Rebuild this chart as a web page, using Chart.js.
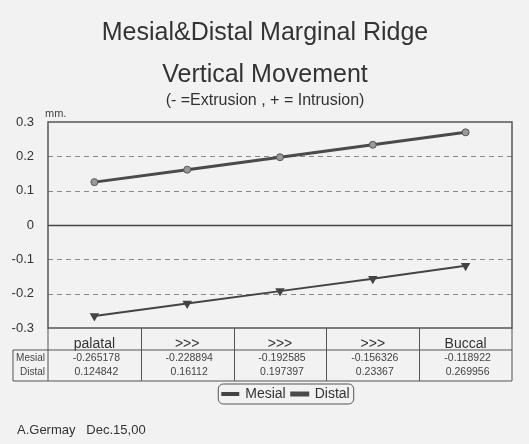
<!DOCTYPE html>
<html>
<head>
<meta charset="utf-8">
<script src="https://cdn.jsdelivr.net/npm/chart.js@4/dist/chart.umd.min.js"></script>
<style>
html, body { margin: 0; background: #f2f2f2; }
#wrap { width: 529px; height: 444px; }
</style>
</head>
<body>
<div id="wrap"><canvas id="myChart"></canvas></div>
<script>
// positions along the tooth, palatal -> buccal
const positions = ['palatal', '>>>', '>>>', '>>>', 'Buccal'];
const mesial = [-0.265178, -0.228894, -0.192585, -0.156326, -0.118922];
const distal = [0.124842, 0.16112, 0.197397, 0.23367, 0.269956];
const yMin = -0.3;
const yMax = 0.3;
const yStep = 0.1;

const FONT = 'Liberation Sans, Arial, sans-serif';
Chart.defaults.font.family = FONT;
Chart.defaults.color = '#333';

const LEGEND_SHIFT = 30;
const TITLE_SHIFT = 9;

// dashed grid, plot frame and the data table under the x axis
const tablePlugin = {
    id: 'tablePlugin',
    afterUpdate(chart) {
        // titles and legend sit a bit right of centre in the original
        const TitleClass = chart.titleBlock.constructor;
        chart.boxes.forEach(b => {
            if (b instanceof TitleClass) {
                b.left += TITLE_SHIFT;
                b.right += TITLE_SHIFT;
            }
        });
        const lg = chart.legend;
        lg.left += LEGEND_SHIFT;
        lg.right += LEGEND_SHIFT;
        (lg.legendHitBoxes || []).forEach(h => { h.left += LEGEND_SHIFT; });
    },
    beforeDatasetsDraw(chart) {
        const ctx = chart.ctx;
        const a = chart.chartArea;
        const y = chart.scales.y;
        ctx.save();
        y.ticks.forEach(t => {
            const v = Math.round(t.value * 10) / 10;
            if (v === yMin || v === yMax) return;
            const py = Math.round(y.getPixelForValue(t.value)) + 0.5;
            ctx.beginPath();
            if (v === 0) {
                ctx.setLineDash([]);
                ctx.strokeStyle = '#444';
                ctx.lineWidth = 1.5;
            } else {
                ctx.setLineDash([5, 4]);
                ctx.strokeStyle = '#888';
                ctx.lineWidth = 1;
            }
            ctx.moveTo(a.left, py);
            ctx.lineTo(a.right, py);
            ctx.stroke();
        });
        ctx.setLineDash([]);
        ctx.strokeStyle = '#555';
        ctx.lineWidth = 1.5;
        ctx.strokeRect(a.left, a.top, a.right - a.left, a.bottom - a.top);
        ctx.restore();
    },
    afterDraw(chart) {
        const ctx = chart.ctx;
        const a = chart.chartArea;
        const x = chart.scales.x;
        const n = positions.length;
        const cw = x.getPixelForValue(1) - x.getPixelForValue(0);
        const hdrBottom = a.bottom + 22;
        const rowH = 14;
        const tblBottom = hdrBottom + rowH * 2 + 3;
        const tblLeft = 13;

        ctx.save();
        ctx.strokeStyle = '#555';
        ctx.lineWidth = 1;
        ctx.beginPath();
        for (let i = 1; i < n; i++) {
            const bx = Math.round(x.getPixelForValue(i) - cw / 2) + 0.5;
            ctx.moveTo(bx, a.bottom);
            ctx.lineTo(bx, tblBottom);
        }
        ctx.moveTo(a.left, a.bottom);
        ctx.lineTo(a.left, tblBottom);
        ctx.moveTo(a.right, a.bottom);
        ctx.lineTo(a.right, tblBottom);
        ctx.moveTo(tblLeft, hdrBottom);
        ctx.lineTo(a.right, hdrBottom);
        ctx.moveTo(tblLeft, tblBottom);
        ctx.lineTo(a.right, tblBottom);
        ctx.moveTo(tblLeft, hdrBottom);
        ctx.lineTo(tblLeft, tblBottom);
        ctx.stroke();

        // row headers and values
        ctx.fillStyle = '#444';
        ctx.textBaseline = 'middle';
        ctx.font = '10px ' + FONT;
        ctx.textAlign = 'right';
        ctx.fillText('Mesial', a.left - 3, hdrBottom + 8);
        ctx.fillText('Distal', a.left - 3, hdrBottom + 8 + rowH);
        ctx.font = '10.5px ' + FONT;
        ctx.textAlign = 'center';
        for (let i = 0; i < n; i++) {
            const cx = x.getPixelForValue(i) + 2;
            ctx.fillText(String(mesial[i]), cx, hdrBottom + 8);
            ctx.fillText(String(distal[i]), cx, hdrBottom + 8 + rowH);
        }

        // axis unit
        ctx.font = '11px ' + FONT;
        ctx.textAlign = 'left';
        ctx.textBaseline = 'bottom';
        ctx.fillText('mm.', a.left - 3, a.top - 3);

        // legend frame
        const boxes = chart.legend.legendHitBoxes;
        if (boxes && boxes.length) {
            let l = Infinity, r = -Infinity, t = Infinity, b = -Infinity;
            boxes.forEach(h => {
                l = Math.min(l, h.left); r = Math.max(r, h.left + h.width);
                t = Math.min(t, h.top); b = Math.max(b, h.top + h.height);
            });
            ctx.strokeStyle = '#555';
            ctx.lineWidth = 1;
            ctx.beginPath();
            ctx.roundRect(l - 4, t - 3, r - l + 8, b - t + 6, 5);
            ctx.stroke();
        }

        // footer
        ctx.fillStyle = '#333';
        ctx.font = '13px ' + FONT;
        ctx.textAlign = 'left';
        ctx.textBaseline = 'middle';
        ctx.fillText('A.Germay   Dec.15,00', 17, 430);
        ctx.restore();
    }
};

const myChart = new Chart(document.getElementById('myChart').getContext('2d'), {
    type: 'line',
    data: {
        labels: positions,
        datasets: [
            {
                label: 'Mesial',
                data: mesial,
                borderColor: '#444',
                backgroundColor: '#444',
                borderWidth: 2,
                pointStyle: 'triangle',
                rotation: 180,
                pointRadius: 3.5,
                pointBackgroundColor: '#444',
                pointBorderColor: '#444'
            },
            {
                label: 'Distal',
                data: distal,
                borderColor: '#4a4a4a',
                backgroundColor: '#4a4a4a',
                borderWidth: 3,
                pointStyle: 'circle',
                pointRadius: 3.5,
                pointBackgroundColor: '#999',
                pointBorderColor: '#555',
                pointBorderWidth: 1
            }
        ]
    },
    options: {
        responsive: true,
        maintainAspectRatio: false,
        animation: false,
        layout: { padding: { left: 0, right: 17, top: 0, bottom: 33 } },
        scales: {
            x: {
                offset: true,
                grid: { display: false },
                border: { display: false },
                ticks: { font: { size: 14 }, color: '#333', padding: 0 },
                afterFit(scale) { scale.height = 53; }
            },
            y: {
                min: yMin,
                max: yMax,
                grid: { display: false },
                border: { display: false },
                ticks: { stepSize: yStep, font: { size: 13 }, color: '#333', padding: 6 },
                afterFit(scale) { scale.width = 48; }
            }
        },
        plugins: {
            title: {
                display: true,
                text: ['Mesial&Distal Marginal Ridge', 'Vertical Movement'],
                font: { size: 25, weight: 'normal', lineHeight: 1.68 },
                color: '#333',
                padding: { top: 12, bottom: 0 }
            },
            subtitle: {
                display: true,
                text: '(- =Extrusion , + = Intrusion)',
                font: { size: 16, lineHeight: 1 },
                color: '#333',
                padding: { top: -3, bottom: 13 }
            },
            legend: {
                position: 'bottom',
                labels: { font: { size: 14 }, color: '#333', boxWidth: 16, boxHeight: 2, padding: 6 }
            },
            tooltip: { enabled: false }
        }
    },
    plugins: [tablePlugin]
});
</script>
</body>
</html>
